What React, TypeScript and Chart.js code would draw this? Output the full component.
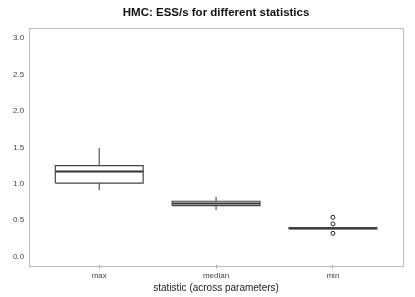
import React, { useEffect, useRef } from "react";
import { Chart, registerables } from "chart.js";

Chart.register(...registerables);

const categories = ["max", "median", "min"];
const whiskerLow = [0.91, 0.64, 0.38];
const q1 = [1.01, 0.7, 0.38];
const medians = [1.17, 0.73, 0.39];
const q3 = [1.25, 0.76, 0.4];
const whiskerHigh = [1.49, 0.82, 0.4];
const outliers: number[][] = [[], [], [0.54, 0.45, 0.32]];
const yTicks = [0, 0.5, 1, 1.5, 2, 2.5, 3];

const HALF = 0.376;

const borderPlugin = {
  id: "plotBorder",
  afterDraw(chart: any) {
    const { ctx, chartArea } = chart;
    ctx.save();
    ctx.strokeStyle = "#bdbdbd";
    ctx.lineWidth = 1;
    ctx.strokeRect(
      Math.round(chartArea.left) + 0.5,
      Math.round(chartArea.top) + 0.5,
      Math.round(chartArea.right - chartArea.left),
      Math.round(chartArea.bottom - chartArea.top)
    );
    ctx.restore();
  },
};

export default function App() {
  const ref = useRef<HTMLCanvasElement>(null);
  useEffect(() => {
    document.body.style.margin = "0";
    const boxes: any[] = [];
    const whiskers: any[] = [];
    const meds: any[] = [];
    const outs: any[] = [];
    categories.forEach((_, i) => {
      boxes.push(
        { x: i - HALF, y: q1[i] },
        { x: i + HALF, y: q1[i] },
        { x: i + HALF, y: q3[i] },
        { x: i - HALF, y: q3[i] },
        { x: i - HALF, y: q1[i] },
        { x: i, y: null }
      );
      whiskers.push(
        { x: i, y: q3[i] },
        { x: i, y: whiskerHigh[i] },
        { x: i, y: null },
        { x: i, y: q1[i] },
        { x: i, y: whiskerLow[i] },
        { x: i, y: null }
      );
      meds.push({ x: i - HALF, y: medians[i] }, { x: i + HALF, y: medians[i] }, { x: i, y: null });
      outliers[i].forEach((v) => outs.push({ x: i, y: v }));
    });
    const chart = new Chart(ref.current!, {
      type: "scatter",
      data: {
        datasets: [
          { data: whiskers, showLine: true, borderColor: "#555", borderWidth: 1.2, pointRadius: 0, spanGaps: false },
          { data: boxes, showLine: true, borderColor: "#444", borderWidth: 1.2, pointRadius: 0, spanGaps: false },
          { data: meds, showLine: true, borderColor: "#333", borderWidth: 2, pointRadius: 0, spanGaps: false },
          {
            data: outs,
            showLine: false,
            pointRadius: 2,
            pointStyle: "circle",
            borderColor: "#222",
            backgroundColor: "#fff",
            borderWidth: 1,
          },
        ],
      },
      options: {
        animation: false,
        responsive: false,
        layout: { padding: { left: 8, right: 12, top: 0, bottom: 3 } },
        plugins: {
          legend: { display: false },
          tooltip: { enabled: false },
          title: {
            display: true,
            fullSize: false,
            text: "HMC: ESS/s for different statistics",
            color: "#111",
            font: { family: "Liberation Sans", size: 11.5, weight: "bold" },
            padding: { top: 6, bottom: 8 },
          },
        },
        scales: {
          x: {
            type: "linear",
            min: -0.6,
            max: 2.6,
            afterBuildTicks: (s: any) => {
              s.ticks = categories.map((_, i) => ({ value: i }));
            },
            ticks: {
              callback: (v: any) => categories[Math.round(Number(v))],
              color: "#444",
              font: { family: "Liberation Sans", size: 8 },
              padding: 3,
              maxRotation: 0,
            },
            grid: { display: true, drawOnChartArea: false, drawTicks: true, tickLength: 3, color: "#999" },
            border: { display: false },
            title: {
              display: true,
              text: "statistic (across parameters)",
              color: "#222",
              font: { family: "Liberation Sans", size: 10 },
              padding: { top: -2, bottom: 0 },
            },
          },
          y: {
            min: -0.12,
            max: 3.14,
            afterBuildTicks: (s: any) => {
              s.ticks = yTicks.map((v) => ({ value: v }));
            },
            ticks: {
              callback: (v: any) => Number(v).toFixed(1),
              color: "#444",
              font: { family: "Liberation Sans", size: 8 },
              padding: 5,
            },
            grid: { display: false, drawTicks: false },
            border: { display: false },
          },
        },
      },
      plugins: [borderPlugin],
    } as any);
    return () => chart.destroy();
  }, []);
  return (
    <div style={{ width: 415, height: 297 }}>
      <canvas ref={ref} width={415} height={297} style={{ display: "block", width: 415, height: 297 }} />
    </div>
  );
}
